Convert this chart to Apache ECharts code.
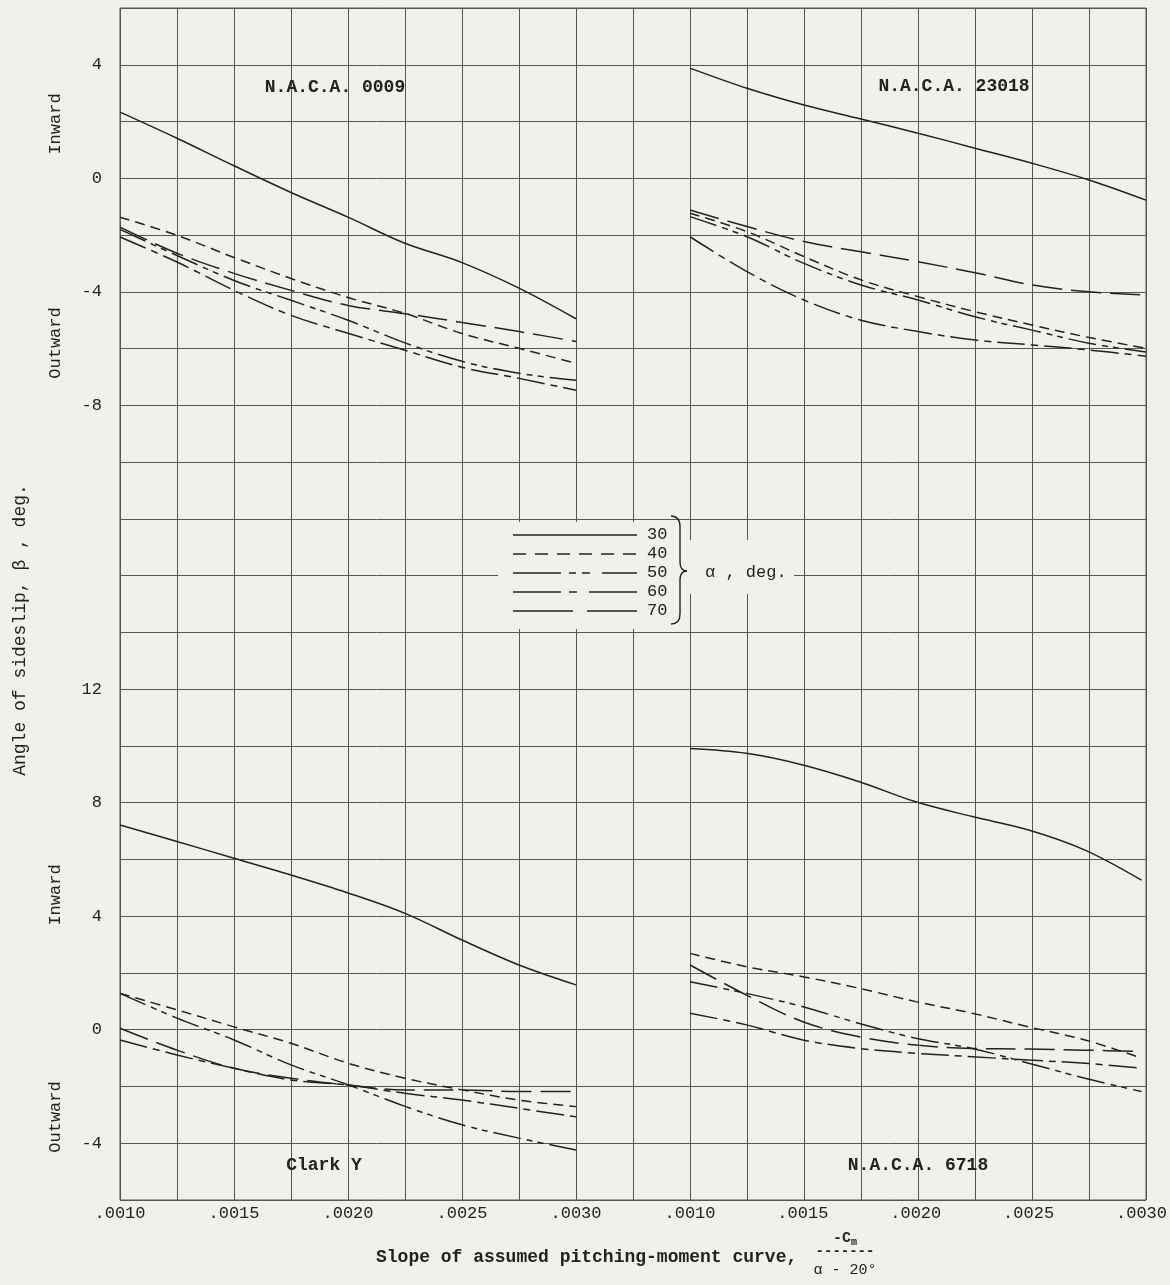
<!DOCTYPE html>
<html><head><meta charset="utf-8">
<script src="https://cdn.jsdelivr.net/npm/echarts@6/dist/echarts.min.js"></script>
<style>html,body{margin:0;padding:0;background:#f2f0eb}#c{width:1170px;height:1285px}</style>
</head><body><div id="c"></div>
<script>
// ---------- data ----------
const xValues = [0.0010, 0.00125, 0.0015, 0.00175, 0.0020, 0.00225, 0.0025, 0.00275, 0.0030];
const xTickLabels = ['.0010', '.0015', '.0020', '.0025', '.0030'];
const topYTickLabels = ['4', '0', '-4', '-8'];
const bottomYTickLabels = ['12', '8', '4', '0', '-4'];
const alphas = ['30', '40', '50', '60', '70'];
const panelTitles = ['N.A.C.A. 0009', 'N.A.C.A. 23018', 'Clark Y', 'N.A.C.A. 6718'];

// N.A.C.A. 0009
const naca0009_a30 = [2.33, 1.41, 0.44, -0.5, -1.37, -2.29, -2.97, -3.87, -4.95];
const naca0009_a40 = [-1.37, -2.01, -2.79, -3.53, -4.2, -4.76, -5.47, -5.99, -6.52];
const naca0009_a50 = [-1.8, -2.72, -3.6, -4.3, -5.0, -5.8, -6.45, -6.87, -7.12];
const naca0009_a60 = [-2.07, -2.95, -3.95, -4.83, -5.46, -6.06, -6.66, -7.05, -7.47];
const naca0009_a70 = [-1.72, -2.64, -3.35, -3.95, -4.48, -4.77, -5.08, -5.4, -5.75];
// N.A.C.A. 23018
const naca23018_a30 = [3.88, 3.17, 2.58, 2.09, 1.59, 1.06, 0.53, -0.06, -0.77];
const naca23018_a40 = [-1.23, -1.88, -2.76, -3.58, -4.17, -4.7, -5.17, -5.61, -5.99];
const naca23018_a50 = [-1.35, -2.06, -3.0, -3.76, -4.29, -4.88, -5.35, -5.81, -6.12];
const naca23018_a60 = [-2.06, -3.29, -4.29, -5.0, -5.4, -5.7, -5.87, -6.05, -6.27];
const naca23018_a70 = [-1.12, -1.7, -2.23, -2.59, -2.94, -3.33, -3.76, -4.0, -4.11];
// Clark Y
const clarkY_a30 = [7.21, 6.63, 6.04, 5.45, 4.82, 4.1, 3.16, 2.28, 1.58];
const clarkY_a40 = [1.28, 0.7, 0.1, -0.48, -1.18, -1.71, -2.12, -2.48, -2.71];
const clarkY_a50 = [1.28, 0.41, -0.36, -1.24, -1.94, -2.7, -3.35, -3.82, -4.24];
const clarkY_a60 = [-0.36, -0.89, -1.36, -1.77, -1.95, -2.24, -2.48, -2.77, -3.07];
const clarkY_a70 = [0.05, -0.72, -1.36, -1.71, -1.95, -2.12, -2.12, -2.18, -2.18];
// N.A.C.A. 6718
const naca6718_a30 = [9.91, 9.74, 9.33, 8.74, 8.03, 7.51, 7.04, 6.33, 5.27];
const naca6718_a40 = [2.69, 2.22, 1.87, 1.46, 0.99, 0.58, 0.1, -0.36, -1.0];
const naca6718_a50 = [1.69, 1.28, 0.81, 0.22, -0.3, -0.66, -1.18, -1.71, -2.18];
const naca6718_a60 = [0.58, 0.17, -0.36, -0.66, -0.83, -0.95, -1.07, -1.18, -1.36];
const naca6718_a70 = [2.28, 1.22, 0.28, -0.25, -0.54, -0.66, -0.68, -0.72, -0.77];

// ---------- styling ----------
const BG = '#f2f0eb';
const INK = '#222222';
const GRIDC = '#555555';
const FONT = '"Liberation Mono", "DejaVu Sans Mono", monospace';
const curveDash = { '30': 'solid', '40': [10, 6], '50': [28, 6, 6, 5, 6, 6], '60': [28, 6, 7, 6], '70': [30, 9] };
const legendDash = { '30': null, '40': [13, 9], '50': [48, 8, 7, 6, 8, 12], '60': [48, 8, 8, 12], '70': [60, 14] };

const panels = [
  { grid: { left: 120, top: 8, width: 456, height: 1192 }, ymin: -36, ymax: 6, bottom: false, left: true,
    data: [naca0009_a30, naca0009_a40, naca0009_a50, naca0009_a60, naca0009_a70] },
  { grid: { left: 690, top: 8, width: 456, height: 1192 }, ymin: -36, ymax: 6, bottom: false, left: false,
    data: [naca23018_a30, naca23018_a40, naca23018_a50, naca23018_a60, naca23018_a70] },
  { grid: { left: 120, top: 8, width: 456, height: 1192 }, ymin: -6, ymax: 36, bottom: true, left: true,
    data: [clarkY_a30, clarkY_a40, clarkY_a50, clarkY_a60, clarkY_a70] },
  { grid: { left: 690, top: 8, width: 456, height: 1192 }, ymin: -6, ymax: 36, bottom: true, left: false,
    data: [naca6718_a30, naca6718_a40, naca6718_a50, naca6718_a60, naca6718_a70] }
];

const grids = [{ left: 120, top: 8, width: 1026, height: 1192, show: true, borderColor: GRIDC, borderWidth: 1, backgroundColor: 'transparent' }];
const xAxes = [{ gridIndex: 0, type: 'value', min: 10, max: 55, interval: 2.5, axisLine: { show: false }, axisTick: { show: false }, axisLabel: { show: false },
  splitLine: { show: true, lineStyle: { color: GRIDC, width: 1 } } }];
const yAxes = [{ gridIndex: 0, type: 'value', min: -36, max: 6, interval: 2, axisLine: { show: false }, axisTick: { show: false }, axisLabel: { show: false },
  splitLine: { show: true, lineStyle: { color: GRIDC, width: 1 } } }];
const series = [];

panels.forEach((p, i) => {
  const gi = i + 1;
  grids.push(Object.assign({ show: false }, p.grid));
  xAxes.push({
    gridIndex: gi, type: 'value', min: 0.0010, max: 0.0030, interval: 0.0005,
    axisLine: { show: false }, axisTick: { show: false }, splitLine: { show: false },
    axisLabel: {
      show: p.bottom, margin: 5, color: '#222', fontSize: 17, fontFamily: FONT,
      formatter: v => { const k = Math.round((v - 0.0010) / 0.0005); return xTickLabels[k] !== undefined ? xTickLabels[k] : ''; }
    }
  });
  const allowed = p.bottom ? bottomYTickLabels : topYTickLabels;
  yAxes.push({
    gridIndex: gi, type: 'value', min: p.ymin, max: p.ymax, interval: 2,
    axisLine: { show: false }, axisTick: { show: false }, splitLine: { show: false },
    axisLabel: {
      show: p.left, margin: 18, color: '#222', fontSize: 17, fontFamily: FONT,
      formatter: v => { const s = String(Math.round(v)); return allowed.indexOf(s) >= 0 ? s : ''; }
    }
  });
  p.data.forEach((arr, k) => {
    series.push({
      type: 'line', name: alphas[k], xAxisIndex: gi, yAxisIndex: gi, smooth: 0.35, symbol: 'none',
      data: xValues.map((x, j) => [x, arr[j]]),
      lineStyle: { color: INK, width: 1.5, type: curveDash[alphas[k]] },
      z: 5, silent: true
    });
  });
});

function txt(x, y, text, size, opts) {
  opts = opts || {};
  const st = {
    text: text, fill: '#222', fontSize: size, fontFamily: FONT, fontWeight: opts.bold ? 'bold' : 'normal',
    align: opts.align || 'center', verticalAlign: 'middle'
  };
  if (opts.rich) st.rich = opts.rich;
  return { type: 'text', x: x, y: y, rotation: opts.rot || 0, z: 110, style: st };
}

const graphics = [];
// blank paper behind legend
graphics.push({ type: 'rect', z: 100, shape: { x: 498, y: 522, width: 180, height: 107 }, style: { fill: BG } });
graphics.push({ type: 'rect', z: 100, shape: { x: 678, y: 540, width: 116, height: 54 }, style: { fill: BG } });
const legY = [534, 553, 572, 591, 610];
alphas.forEach((a, k) => {
  const st = { stroke: INK, lineWidth: 1.5 };
  if (legendDash[a]) st.lineDash = legendDash[a];
  graphics.push({ type: 'line', z: 110, shape: { x1: 513, y1: legY[k] + 1, x2: 637, y2: legY[k] + 1 }, style: st });
  graphics.push(txt(647, legY[k], a, 17, { align: 'left' }));
});
// brace
const braceStyle = { stroke: INK, lineWidth: 1.4, fill: 'none' };
graphics.push({ type: 'bezierCurve', z: 110, shape: { x1: 671, y1: 516, x2: 680, y2: 527, cpx1: 680, cpy1: 516 }, style: braceStyle });
graphics.push({ type: 'line', z: 110, shape: { x1: 680, y1: 527, x2: 680, y2: 562 }, style: braceStyle });
graphics.push({ type: 'bezierCurve', z: 110, shape: { x1: 680, y1: 562, x2: 687, y2: 571, cpx1: 680, cpy1: 571 }, style: braceStyle });
graphics.push({ type: 'bezierCurve', z: 110, shape: { x1: 687, y1: 571, x2: 680, y2: 580, cpx1: 680, cpy1: 571 }, style: braceStyle });
graphics.push({ type: 'line', z: 110, shape: { x1: 680, y1: 580, x2: 680, y2: 614 }, style: braceStyle });
graphics.push({ type: 'bezierCurve', z: 110, shape: { x1: 680, y1: 614, x2: 671, y2: 624, cpx1: 680, cpy1: 624 }, style: braceStyle });
graphics.push(txt(705, 572, 'α , deg.', 17, { align: 'left' }));

// panel titles
graphics.push(txt(335, 87, panelTitles[0], 18, { bold: true }));
graphics.push(txt(954, 86, panelTitles[1], 18, { bold: true }));
graphics.push(txt(324, 1165, panelTitles[2], 18, { bold: true }));
graphics.push(txt(918, 1165, panelTitles[3], 18, { bold: true }));
// side labels
const R = Math.PI / 2;
graphics.push(txt(55, 124, 'Inward', 17, { rot: R }));
graphics.push(txt(55, 343, 'Outward', 17, { rot: R }));
graphics.push(txt(55, 895, 'Inward', 17, { rot: R }));
graphics.push(txt(55, 1117, 'Outward', 17, { rot: R }));
graphics.push(txt(20, 630, 'Angle of sideslip, β , deg.', 18, { rot: R }));
// x title
graphics.push(txt(376, 1257, 'Slope of assumed pitching-moment curve,', 18, { bold: true, align: 'left' }));
graphics.push(txt(845, 1238, '{a|-C}{s|m}', 15, { bold: true, rich: {
  a: { fontSize: 15, fontFamily: FONT, fontWeight: 'bold', fill: '#222' },
  s: { fontSize: 10, fontFamily: FONT, fontWeight: 'bold', fill: '#222', padding: [8, 0, 0, 0] } } }));
graphics.push(txt(845, 1251, '-------', 14, { bold: true }));
graphics.push(txt(845, 1270, 'α - 20°', 15, {}));

const chart = echarts.init(document.getElementById('c'), null, { renderer: 'canvas' });
chart.setOption({
  backgroundColor: BG,
  animation: false,
  grid: grids, xAxis: xAxes, yAxis: yAxes, series: series,
  graphic: { elements: graphics }
});
</script></body></html>
